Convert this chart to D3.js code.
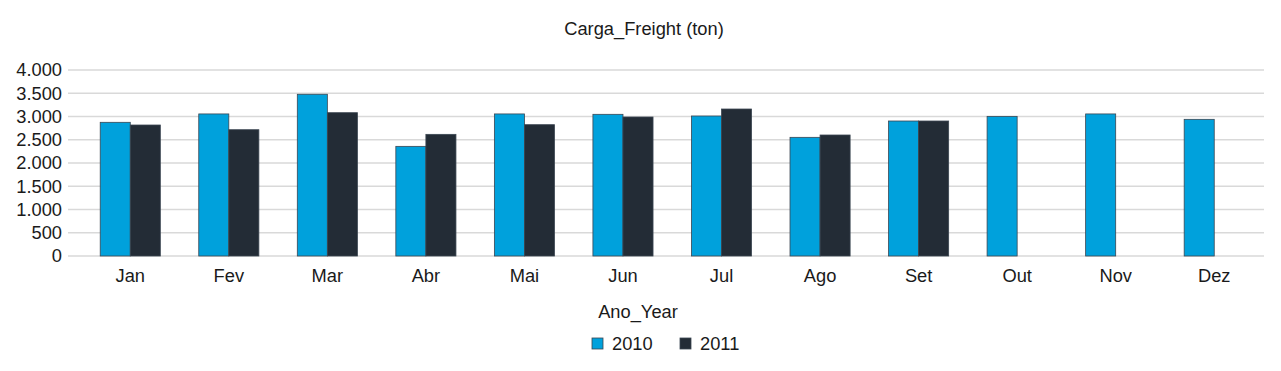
<!DOCTYPE html>
<html>
<head>
<meta charset="utf-8">
<script src="https://cdn.jsdelivr.net/npm/d3@7"></script>
<style>
  body { margin: 0; background: #fff; }
  text { font-family: "Liberation Sans", Arial, sans-serif; fill: #1a1a1a; }
</style>
</head>
<body>
<div id="chart-area"></div>
<script>
const months = ['Jan', 'Fev', 'Mar', 'Abr', 'Mai', 'Jun', 'Jul', 'Ago', 'Set', 'Out', 'Nov', 'Dez'];
const years = ['2010', '2011'];
const values2010 = [2875, 3055, 3478, 2358, 3055, 3047, 3011, 2552, 2903, 3003, 3055, 2939];
const values2011 = [2817, 2716, 3082, 2616, 2824, 2989, 3161, 2602, 2903, null, null, null];
const yTicks = [0, 500, 1000, 1500, 2000, 2500, 3000, 3500, 4000];
const colors = ['#00a1dc', '#232c36'];

const width = 1281, height = 371;
const fontSize = '18.3px';
const fmt = (d) => d.toLocaleString('de-DE');

let svg = d3.select('#chart-area').append('svg').attr('width', width).attr('height', height);

let data = months.map((m, i) => ({ month: m, vals: [values2010[i], values2011[i]] }));

let x = d3.scaleBand()
    .domain(months)
    .range([81, 1263.5])
    .paddingInner(0.39)
    .paddingOuter(0.195);

let x1 = d3.scaleBand()
    .domain(years)
    .range([0, x.bandwidth()]);

let y = d3.scaleLinear()
    .domain([0, 4000])
    .range([256, 70]);

// gridlines
svg.append('g').selectAll('line').data(yTicks).enter().append('line')
    .attr('x1', 68).attr('x2', 1264)
    .attr('y1', (d) => y(d)).attr('y2', (d) => y(d))
    .attr('stroke', '#d9d9d9').attr('stroke-width', 1.3);

// y axis labels
let yAxis = d3.axisLeft(y).tickValues(yTicks).tickFormat(fmt).tickSize(0).tickPadding(0);
let yg = svg.append('g').attr('transform', 'translate(62,0)').call(yAxis);
yg.select('.domain').remove();
yg.selectAll('text').style('font-size', fontSize).style('fill', '#1a1a1a')
    .style('font-family', '"Liberation Sans", Arial, sans-serif');

// x axis labels
let xAxis = d3.axisBottom(x).tickSize(0).tickPadding(0);
let xg = svg.append('g').attr('transform', 'translate(0,269)').call(xAxis);
xg.select('.domain').remove();
xg.selectAll('text').style('font-size', fontSize).style('fill', '#1a1a1a')
    .style('font-family', '"Liberation Sans", Arial, sans-serif');

// bars
let groups = svg.selectAll('.grp').data(data).enter().append('g')
    .attr('class', 'grp')
    .attr('transform', (d) => 'translate(' + x(d.month) + ',0)');

groups.selectAll('rect')
    .data((d) => d.vals.map((v, i) => ({ year: years[i], value: v, i: i })).filter((e) => e.value != null))
    .enter().append('rect')
    .attr('x', (d) => x1(d.year))
    .attr('y', (d) => y(d.value))
    .attr('width', x1.bandwidth())
    .attr('height', (d) => y(0) - y(d.value))
    .attr('fill', (d) => colors[d.i])
    .attr('stroke', '#3b4652')
    .attr('stroke-width', 0.8);

// title
svg.append('text').attr('x', 644).attr('y', 35).attr('text-anchor', 'middle')
    .style('font-size', fontSize).text('Carga_Freight (ton)');

// legend
svg.append('text').attr('x', 638).attr('y', 318).attr('text-anchor', 'middle')
    .style('font-size', fontSize).text('Ano_Year');

let legendX = [592, 680];
let legend = svg.selectAll('.leg').data(years).enter().append('g')
    .attr('class', 'leg')
    .attr('transform', (d, i) => 'translate(' + legendX[i] + ',338)');
legend.append('rect')
    .attr('width', 11).attr('height', 11)
    .attr('fill', (d, i) => colors[i])
    .attr('stroke', '#3b4652').attr('stroke-width', 0.8);
legend.append('text').attr('x', 20).attr('y', 12)
    .style('font-size', fontSize).text((d) => d);
</script>
</body>
</html>
